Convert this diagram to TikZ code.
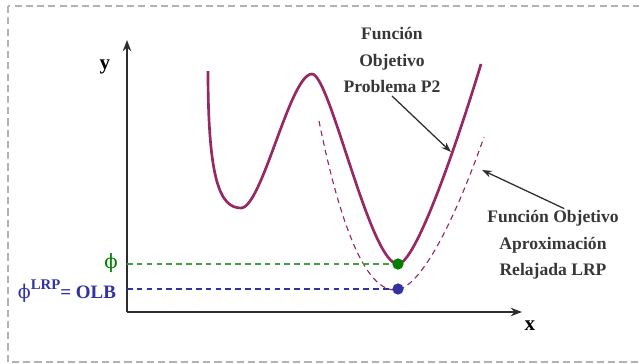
\documentclass[tikz,border=0pt]{standalone}
\usepackage{amsmath, amssymb}
\usepackage{fontspec}
\setmainfont{Liberation Serif}
\newfontfamily\phifont{DejaVu Serif}
\usepackage{xcolor}
\usepackage{tikz}
\usetikzlibrary{
arrows.meta,
positioning,
calc
}
\definecolor{fobjred}{RGB}{150,40,100}
\definecolor{phigreen}{RGB}{0,128,0}
\definecolor{phiblue}{RGB}{50,50,160}
\definecolor{axisgray}{RGB}{45,45,45}
\definecolor{txtgray}{RGB}{55,55,55}

\begin{document}
\begin{tikzpicture}[>=Stealth, x=0.025cm, y=-0.025cm,
  fobjlabel/.style={font=\fontsize{12.5}{19}\selectfont\bfseries, text=txtgray, align=center, inner sep=1pt},
  axislabel/.style={font=\fontsize{15}{17}\selectfont\bfseries, text=black},
  callout/.style={-{Stealth[length=7pt,width=5pt]}, line width=0.9pt, axisgray}]

\useasboundingbox (0,0) rectangle (639,363);

% Frame
\draw[gray!60, line width=0.8pt, dash pattern=on 5pt off 3pt] (8,6) rectangle (660,362);

% Axes
\coordinate (origin) at (127,312);
\coordinate (ytip) at (127,40);
\coordinate (xtip) at (522,312);
\draw[line width=2pt, axisgray, -{Stealth[length=8pt,width=6pt]}] (origin) -- (ytip);
\draw[line width=2pt, axisgray, -{Stealth[length=8pt,width=6pt]}] (origin) -- (xtip);
\node[axislabel] (ylab) at (105,67) {y};
\node[axislabel] (xlab) at (530,326) {x};

% Objective function P2
\draw[fobjred, line width=1.9pt] (208,71)
  .. controls (208,180) and (220,208) .. (241,208)
  .. controls (262,208) and (290,74) .. (312,74)
  .. controls (330,74) and (370,264) .. (398,264)
  .. controls (415,264) and (455,150) .. (481,64);

% Relaxed approximation LRP
\draw[fobjred, line width=0.8pt, dash pattern=on 4pt off 3pt] (319,121)
  .. controls (335,200) and (360,290) .. (395,290)
  .. controls (420,290) and (455,220) .. (484,137);

% Optimal values
\node[circle, fill=phigreen, inner sep=0pt, minimum size=8pt] (optP2) at (398,264) {};
\node[circle, fill=phiblue, inner sep=0pt, minimum size=8pt] (optLRP) at (398,289) {};
\coordinate (yP2) at (127,264);
\coordinate (yLRP) at (127,289);
\draw[phigreen!75, line width=0.9pt, dash pattern=on 4pt off 3pt] (yP2) -- (optP2);
\draw[phiblue, line width=0.8pt, dash pattern=on 4pt off 3pt] (yLRP) -- (optLRP);
\node[text=phigreen, font=\fontsize{14}{16}\selectfont] (phiP2) at (111,263) {\phifont ϕ};
\node[text=phiblue, font=\fontsize{13.5}{16}\selectfont\bfseries, anchor=east] (phiLRP) at (121,291)
  {{\phifont\mdseries ϕ}\raisebox{1.1ex}{\fontsize{10.5}{12}\selectfont LRP}= OLB};

% Labels
\node[fobjlabel] (titleP2) at (392,60) {Función\\Objetivo\\Problema P2};
\node[fobjlabel] (titleLRP) at (553,245) {Función Objetivo\\Aproximación\\Relajada LRP};
\coordinate (onP2) at (451,152);
\coordinate (onLRP) at (482,170);
\draw[callout] ([yshift=-1pt]titleP2.south) -- (onP2);
\draw[callout] ([xshift=8pt]titleLRP.north) -- (onLRP);

\end{tikzpicture}
\end{document}
